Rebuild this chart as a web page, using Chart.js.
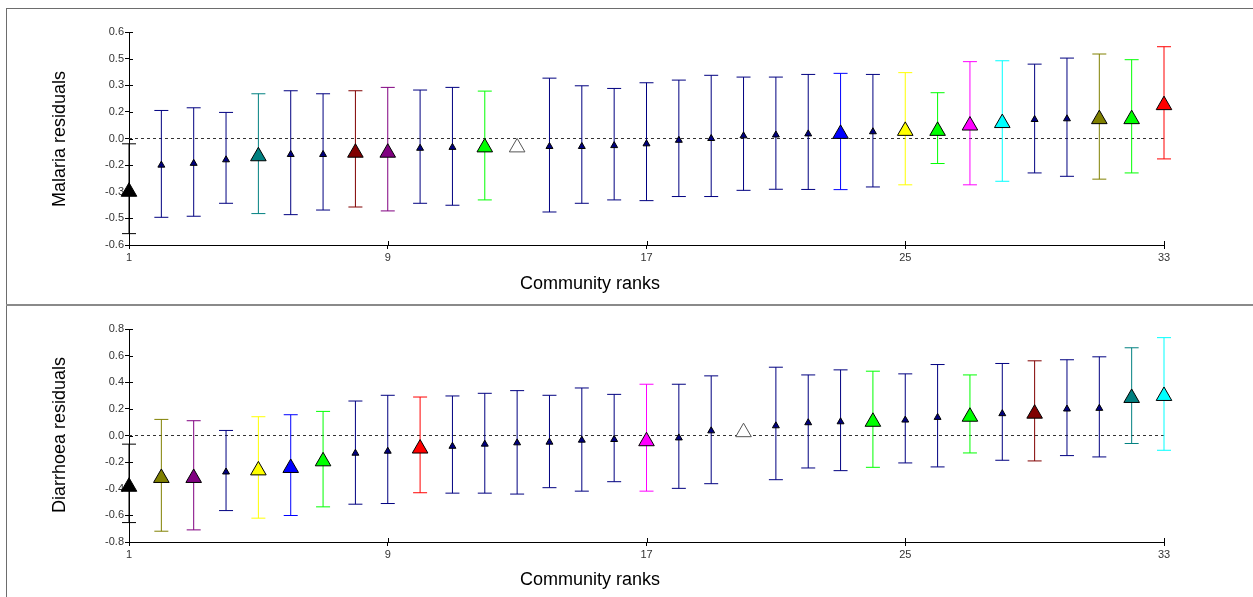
<!DOCTYPE html>
<html>
<head>
<meta charset="utf-8">
<script src="https://cdn.jsdelivr.net/npm/chart.js@4.4.1/dist/chart.umd.min.js"></script>
<style>
  body { margin: 0; background: #fff; width: 1253px; height: 597px; overflow: hidden; position: relative; }
  .frame { position: absolute; left: 6px; top: 8px; width: 1247px; height: 589px; border-left: 1px solid #6d6d6d; border-top: 1px solid #6d6d6d; box-sizing: border-box; }
  .sep { position: absolute; left: 6px; top: 304px; width: 1247px; height: 2px; background: #8a8a8a; }
  canvas { position: absolute; left: 0; }
  #malaria { top: 0; }
  #diarrhoea { top: 306px; }
</style>
</head>
<body>
<div class="frame"></div>
<div class="sep"></div>
<canvas id="malaria" width="1253" height="304"></canvas>
<canvas id="diarrhoea" width="1253" height="291"></canvas>
<script>
const N = '#000080';

const ranks = Array.from({ length: 33 }, (_, i) => i + 1);
const rankTicks = [1, 9, 17, 25, 33];

const malariaEst = [-0.30, -0.15, -0.14, -0.12, -0.10, -0.09, -0.09, -0.08, -0.08, -0.055, -0.05, -0.05, -0.05,
  -0.045, -0.045, -0.04, -0.03, -0.01, 0.0, 0.015, 0.02, 0.026, 0.026, 0.038, 0.043, 0.043, 0.073, 0.087,
  0.107, 0.111, 0.109, 0.109, 0.188];
const malariaLow = [-0.536, -0.444, -0.438, -0.365, -0.423, -0.429, -0.403, -0.386, -0.408, -0.365, -0.376, -0.346, null,
  -0.414, -0.365, -0.346, -0.350, -0.327, -0.327, -0.292, -0.286, -0.287, -0.288, -0.273, -0.261, -0.141, -0.261,
  -0.241, -0.194, -0.213, -0.229, -0.194, -0.115];
const malariaHigh = [-0.030, 0.158, 0.173, 0.147, 0.252, 0.269, 0.252, 0.269, 0.288, 0.273, 0.288, 0.267, null,
  0.340, 0.297, 0.282, 0.314, 0.329, 0.356, 0.346, 0.346, 0.361, 0.367, 0.361, 0.371, 0.258, 0.433,
  0.438, 0.419, 0.453, 0.476, 0.444, 0.517];
const malariaColors = ['#000000', N, N, N, '#008080', N, N, '#800000', '#800080', N, N, '#00ff00', '#ffffff',
  N, N, N, N, N, N, N, N, N, '#0000ff', N, '#ffff00', '#00ff00', '#ff00ff', '#00ffff', N, N,
  '#808000', '#00ff00', '#ff0000'];
const malariaTickValues = [-0.6, -0.45, -0.3, -0.15, 0, 0.15, 0.3, 0.45, 0.6];
const malariaTickLabels = ['-0.6', '-0.5', '-0.3', '-0.2', '0.0', '0.2', '0.3', '0.5', '0.6'];

const diarrhoeaEst = [-0.385, -0.319, -0.319, -0.274, -0.262, -0.244, -0.194, -0.133, -0.118, -0.098, -0.081, -0.065,
  -0.055, -0.050, -0.035, -0.030, -0.043, -0.018, 0.035, 0.025, 0.073, 0.096, 0.103, 0.103, 0.116, 0.136,
  0.141, 0.164, 0.164, 0.199, 0.204, 0.282, 0.297];
const diarrhoeaLow = [-0.654, -0.719, -0.709, -0.564, -0.621, -0.601, -0.536, -0.516, -0.511, -0.430, -0.433, -0.433,
  -0.440, -0.392, -0.418, -0.347, -0.418, -0.397, -0.362, null, -0.332, -0.244, -0.264, -0.239, -0.206, -0.236,
  -0.131, -0.186, -0.191, -0.151, -0.161, -0.060, -0.111];
const diarrhoeaHigh = [-0.065, 0.121, 0.111, 0.038, 0.141, 0.156, 0.181, 0.259, 0.302, 0.289, 0.297, 0.317,
  0.337, 0.302, 0.357, 0.309, 0.385, 0.385, 0.448, null, 0.513, 0.455, 0.493, 0.483, 0.463, 0.533,
  0.455, 0.541, 0.561, 0.569, 0.591, 0.659, 0.735];
const diarrhoeaColors = ['#000000', '#808000', '#800080', N, '#ffff00', '#0000ff', '#00ff00', N, N, '#ff0000',
  N, N, N, N, N, N, '#ff00ff', N, N, '#ffffff', N, N, N, '#00ff00', N, N, '#00ff00', N, '#800000', N, N,
  '#008080', '#00ffff'];
const diarrhoeaTickValues = [-0.8, -0.6, -0.4, -0.2, 0, 0.2, 0.4, 0.6, 0.8];
const diarrhoeaTickLabels = ['-0.8', '-0.6', '-0.4', '-0.2', '0.0', '0.2', '0.4', '0.6', '0.8'];

const FONT = 'Arial, "Liberation Sans", sans-serif';

// error bars, zero line, inner tick stubs and axis titles
function residualPlugin(low, high, colors, yTitle, titlePos) {
  return {
    id: 'residuals',
    beforeDatasetsDraw(chart) {
      const { ctx, chartArea, scales: { x, y } } = chart;
      ctx.save();
      ctx.lineWidth = 1;
      const y0 = y.getPixelForValue(0);
      ctx.strokeStyle = '#333';
      ctx.setLineDash([3, 3]);
      ctx.beginPath();
      ctx.moveTo(chartArea.left, y0);
      ctx.lineTo(chartArea.right, y0);
      ctx.stroke();
      ctx.setLineDash([]);
      ranks.forEach((r, i) => {
        if (low[i] == null) return;
        const px = x.getPixelForValue(r);
        const top = y.getPixelForValue(high[i]);
        const bot = y.getPixelForValue(low[i]);
        ctx.strokeStyle = colors[i];
        ctx.beginPath();
        ctx.moveTo(px, top);
        ctx.lineTo(px, bot);
        ctx.moveTo(px - 7, top);
        ctx.lineTo(px + 7, top);
        ctx.moveTo(px - 7, bot);
        ctx.lineTo(px + 7, bot);
        ctx.stroke();
      });
      ctx.restore();
    },
    afterDraw(chart) {
      const { ctx, chartArea, scales: { x, y } } = chart;
      ctx.save();
      ctx.strokeStyle = '#000';
      ctx.lineWidth = 1;
      ctx.beginPath();
      x.ticks.forEach((t) => {
        const px = Math.round(x.getPixelForValue(t.value)) + 0.5;
        ctx.moveTo(px, chartArea.bottom);
        ctx.lineTo(px, chartArea.bottom - 4);
      });
      y.ticks.forEach((t) => {
        const py = Math.round(y.getPixelForValue(t.value)) + 0.5;
        ctx.moveTo(chartArea.left, py);
        ctx.lineTo(chartArea.left + 4, py);
      });
      ctx.stroke();

      ctx.fillStyle = '#000';
      ctx.font = '18px ' + FONT;
      ctx.textAlign = 'center';
      ctx.textBaseline = 'middle';
      ctx.fillText('Community ranks', 590, titlePos.xTitleY);
      ctx.translate(60, titlePos.yTitleY);
      ctx.rotate(-Math.PI / 2);
      ctx.fillText(yTitle, 0, 0);
      ctx.restore();
    },
  };
}

function makeChart(id, est, low, high, colors, tickValues, tickLabels, yTitle, layout) {
  const ctx = document.getElementById(id).getContext('2d');
  return new Chart(ctx, {
    type: 'scatter',
    data: {
      datasets: [
        {
          data: ranks.map((r, i) => ({ x: r, y: est[i] })),
          clip: false,
          pointStyle: 'triangle',
          pointRadius: colors.map((c) => (c === N ? 4 : 9)),
          pointBackgroundColor: colors,
          pointBorderColor: colors.map((c) => (c === '#ffffff' ? '#555' : '#000')),
          pointBorderWidth: 1,
          showLine: false,
        },
      ],
    },
    options: {
      responsive: false,
      animation: false,
      events: [],
      layout: { padding: { top: layout.top, right: 89, left: 0, bottom: 0 } },
      plugins: {
        legend: { display: false },
        tooltip: { enabled: false },
      },
      scales: {
        x: {
          type: 'linear',
          min: 1,
          max: 33,
          afterBuildTicks: (scale) => {
            scale.ticks = rankTicks.map((v) => ({ value: v }));
          },
          afterFit: (scale) => {
            scale.height = layout.xHeight;
          },
          grid: { drawOnChartArea: false, tickLength: 4, color: '#000' },
          border: { color: '#000', width: 1 },
          ticks: { color: '#333', padding: 2, maxRotation: 0, font: { size: 11, family: FONT } },
        },
        y: {
          min: tickValues[0],
          max: tickValues[tickValues.length - 1],
          afterBuildTicks: (scale) => {
            scale.ticks = tickValues.map((v) => ({ value: v }));
          },
          afterFit: (scale) => {
            scale.width = 129;
          },
          grid: { drawOnChartArea: false, tickLength: 4, color: '#000' },
          border: { color: '#000', width: 1 },
          ticks: {
            color: '#333',
            padding: 1,
            font: { size: 11, family: FONT },
            callback: (value, index) => tickLabels[index],
          },
        },
      },
    },
    plugins: [residualPlugin(low, high, colors, yTitle, layout)],
  });
}

makeChart('malaria', malariaEst, malariaLow, malariaHigh, malariaColors,
  malariaTickValues, malariaTickLabels, 'Malaria residuals',
  { top: 32, xHeight: 59, xTitleY: 284, yTitleY: 139 });

makeChart('diarrhoea', diarrhoeaEst, diarrhoeaLow, diarrhoeaHigh, diarrhoeaColors,
  diarrhoeaTickValues, diarrhoeaTickLabels, 'Diarrhoea residuals',
  { top: 23, xHeight: 55, xTitleY: 274, yTitleY: 129 });
</script>
</body>
</html>
